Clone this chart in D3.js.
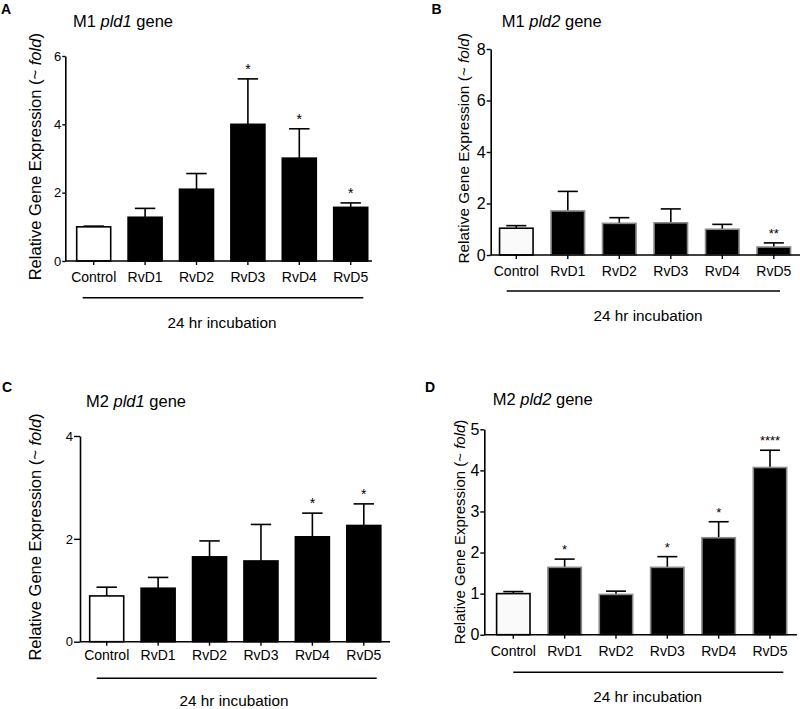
<!DOCTYPE html>
<html><head><meta charset="utf-8">
<script src="https://cdn.jsdelivr.net/npm/d3@7"></script>
<style>
body{margin:0;background:#fff}
svg{display:block}
text{font-family:"Liberation Sans",Arial,Helvetica,sans-serif;fill:#000}
</style>
</head><body>
<svg id="c" width="800" height="709"></svg>
<script>
// ---------- data ----------
const categories = ["Control", "RvD1", "RvD2", "RvD3", "RvD4", "RvD5"];

const m1Pld1Mean = [1.00, 1.28, 2.10, 4.00, 3.01, 1.57];
const m1Pld1Sem  = [0.02, 0.26, 0.46, 1.33, 0.86, 0.13];
const m1Pld1Sig  = ["", "", "", "*", "*", "*"];
const m1Pld1Ticks = [0, 2, 4, 6];

const m1Pld2Mean = [1.04, 1.71, 1.23, 1.25, 1.00, 0.31];
const m1Pld2Sem  = [0.10, 0.76, 0.22, 0.54, 0.19, 0.16];
const m1Pld2Sig  = ["", "", "", "", "", "**"];
const m1Pld2Ticks = [0, 2, 4, 6, 8];

const m2Pld1Mean = [0.89, 1.04, 1.65, 1.57, 2.04, 2.26];
const m2Pld1Sem  = [0.17, 0.21, 0.31, 0.71, 0.46, 0.42];
const m2Pld1Sig  = ["", "", "", "", "*", "*"];
const m2Pld1Ticks = [0, 2, 4];

const m2Pld2Mean = [1.00, 1.64, 0.98, 1.64, 2.36, 4.07];
const m2Pld2Sem  = [0.05, 0.20, 0.08, 0.26, 0.39, 0.42];
const m2Pld2Sig  = ["", "*", "", "*", "*", "****"];
const m2Pld2Ticks = [0, 1, 2, 3, 4, 5];

const xAxisLabel = "24 hr incubation";

// ---------- layout ----------
const panels = [
  {letter:"A", letterX:1, letterY:14, cell:"M1", gene:"pld1", titleX:73, titleY:27,
   mean:m1Pld1Mean, sem:m1Pld1Sem, sig:m1Pld1Sig, ticks:m1Pld1Ticks,
   axX:65.3, y0:261, yTop:56, c0:93.7, c5:350.7, xEnd:372, bw:34,
   yTick:3, yFont:13, tickBase:281.5, lineY:297.7, lineX0:82.7, lineX1:363.3,
   xlabX:222, xlabY:327.5, ylabX:40.7, ylabY:156.7, ylabFont:16.5, starFont:14, outline:"#000", ctrlFill:"#fff"},
  {letter:"B", letterX:431.5, letterY:14, cell:"M1", gene:"pld2", titleX:501.7, titleY:27,
   mean:m1Pld2Mean, sem:m1Pld2Sem, sig:m1Pld2Sig, ticks:m1Pld2Ticks,
   axX:490.7, y0:255, yTop:49, c0:516.3, c5:773.8, xEnd:800, bw:33.5,
   yTick:4, yFont:16, tickBase:276, lineY:291, lineX0:506.7, lineX1:780,
   xlabX:648, xlabY:320.5, ylabX:469.3, ylabY:148.3, ylabFont:15.4, starFont:13, outline:"#8a8a8a", ctrlFill:"#fafafa"},
  {letter:"C", letterX:2, letterY:392, cell:"M2", gene:"pld1", titleX:86, titleY:406.7,
   mean:m2Pld1Mean, sem:m2Pld1Sem, sig:m2Pld1Sig, ticks:m2Pld1Ticks,
   axX:80, y0:641.7, yTop:436, c0:106.7, c5:363.8, xEnd:390, bw:34,
   yTick:6, yFont:13, tickBase:660.5, lineY:678.3, lineX0:96.7, lineX1:376.7,
   xlabX:234, xlabY:705.5, ylabX:41, ylabY:537, ylabFont:16.5, starFont:14, outline:"#000", ctrlFill:"#fff"},
  {letter:"D", letterX:425, letterY:391.5, cell:"M2", gene:"pld2", titleX:492.7, titleY:405,
   mean:m2Pld2Mean, sem:m2Pld2Sem, sig:m2Pld2Sig, ticks:m2Pld2Ticks,
   axX:484.3, y0:634.7, yTop:429.3, c0:513.3, c5:770, xEnd:797, bw:33.4,
   yTick:4, yFont:16, tickBase:656, lineY:672.3, lineX0:513.3, lineX1:783.3,
   xlabX:647.7, xlabY:702, ylabX:465.3, ylabY:532, ylabFont:15, starFont:13, outline:"#8a8a8a", ctrlFill:"#fafafa"}
];

const svg = d3.select("#c");

panels.forEach(p => {
  const g = svg.append("g");
  const n = categories.length;
  const step = (p.c5 - p.c0) / (n - 1);
  const padFrac = 1 - p.bw / step;
  const x = d3.scaleBand().domain(categories)
    .range([p.c0 - step / 2, p.c5 + step / 2])
    .paddingInner(padFrac).paddingOuter(padFrac / 2);
  const yMax = d3.max(p.ticks);
  const y = d3.scaleLinear().domain([0, yMax]).range([p.y0, p.yTop]);

  const data = categories.map((c, i) => ({c, i, m: p.mean[i], e: p.sem[i], s: p.sig[i]}));

  // error bars (upper only)
  const capW = x.bandwidth() * 0.6;
  const eb = g.append("g").attr("stroke", "#000").attr("stroke-width", 1.6).attr("fill", "none");
  eb.selectAll("line.v").data(data).join("line")
    .attr("x1", d => x(d.c) + x.bandwidth() / 2).attr("x2", d => x(d.c) + x.bandwidth() / 2)
    .attr("y1", d => y(d.m)).attr("y2", d => y(d.m + d.e));
  eb.selectAll("line.h").data(data).join("line")
    .attr("x1", d => x(d.c) + x.bandwidth() / 2 - capW / 2).attr("x2", d => x(d.c) + x.bandwidth() / 2 + capW / 2)
    .attr("y1", d => y(d.m + d.e)).attr("y2", d => y(d.m + d.e));

  // bars
  g.append("g").selectAll("rect").data(data).join("rect")
    .attr("x", d => x(d.c)).attr("width", x.bandwidth())
    .attr("y", d => y(d.m)).attr("height", d => y(0) - y(d.m))
    .attr("fill", d => d.i === 0 ? p.ctrlFill : "#000")
    .attr("stroke", d => d.i === 0 ? "#000" : p.outline)
    .attr("stroke-width", 1.6);

  // significance stars
  g.append("g").selectAll("text").data(data.filter(d => d.s)).join("text")
    .attr("x", d => x(d.c) + x.bandwidth() / 2)
    .attr("y", d => y(d.m + d.e) - 5)
    .attr("text-anchor", "middle").attr("font-size", p.starFont)
    .text(d => d.s);

  // y axis
  const ya = g.append("g").attr("transform", `translate(${p.axX},0)`)
    .call(d3.axisLeft(y).tickValues(p.ticks).tickFormat(d3.format("d"))
      .tickSize(p.yTick).tickSizeOuter(0).tickPadding(1));
  ya.select(".domain").attr("stroke-width", 1.6);
  ya.selectAll(".tick line").attr("stroke-width", 1.4);
  ya.selectAll("text").attr("font-size", p.yFont).attr("font-family", null);

  // x axis
  const xa = g.append("g").attr("transform", `translate(0,${p.y0})`)
    .call(d3.axisBottom(x).tickSize(4).tickSizeOuter(0));
  xa.select(".domain").remove();
  xa.selectAll(".tick line").attr("stroke-width", 1.4);
  xa.selectAll("text").attr("font-size", 14).attr("font-family", null)
    .attr("y", p.tickBase - p.y0).attr("dy", 0);
  xa.append("line").attr("x1", p.axX).attr("x2", p.xEnd).attr("y1", 0).attr("y2", 0)
    .attr("stroke", "#000").attr("stroke-width", 1.6);

  // bracket line + label
  g.append("line").attr("x1", p.lineX0).attr("x2", p.lineX1)
    .attr("y1", p.lineY).attr("y2", p.lineY).attr("stroke", "#000").attr("stroke-width", 1.4);
  g.append("text").attr("x", p.xlabX).attr("y", p.xlabY).attr("text-anchor", "middle")
    .attr("font-size", 15.3).text(xAxisLabel);

  // y label
  const yl = g.append("text").attr("transform", `translate(${p.ylabX},${p.ylabY}) rotate(-90)`)
    .attr("text-anchor", "middle").attr("font-size", p.ylabFont);
  yl.append("tspan").text("Relative Gene Expression (~ ");
  yl.append("tspan").attr("font-style", "italic").text("fold");
  yl.append("tspan").text(")");

  // title
  const t = g.append("text").attr("x", p.titleX).attr("y", p.titleY).attr("font-size", 16.5);
  t.append("tspan").text(p.cell + " ");
  t.append("tspan").attr("font-style", "italic").text(p.gene);
  t.append("tspan").text(" gene");

  // panel letter
  g.append("text").attr("x", p.letterX).attr("y", p.letterY)
    .attr("font-size", 14).attr("font-weight", "bold").text(p.letter);
});
</script>
</body></html>
